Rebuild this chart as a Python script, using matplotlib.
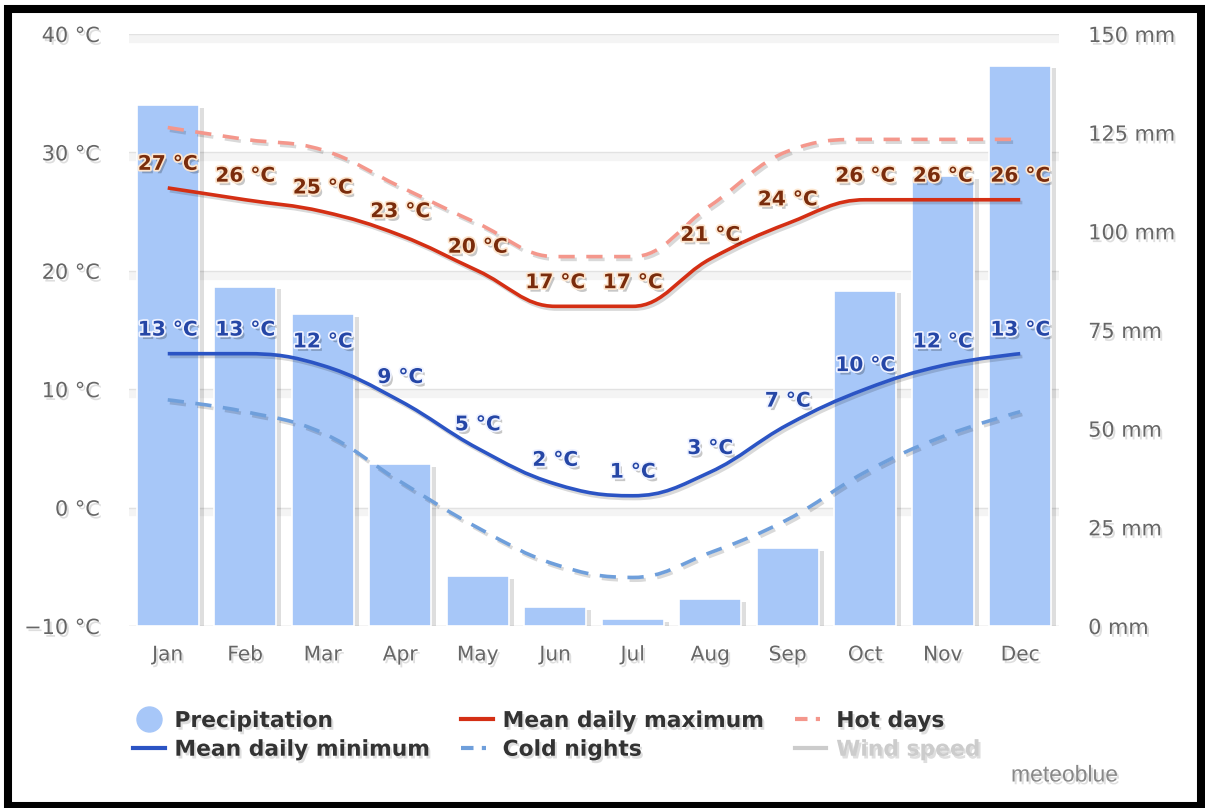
import numpy as np
import matplotlib
matplotlib.use('Agg')
import matplotlib.pyplot as plt
import matplotlib.patheffects as pe
from matplotlib.path import Path
from matplotlib.patches import PathPatch, Rectangle
from matplotlib.lines import Line2D

# climate data
months = ['Jan', 'Feb', 'Mar', 'Apr', 'May', 'Jun',
          'Jul', 'Aug', 'Sep', 'Oct', 'Nov', 'Dec']
precip = [132, 86, 79, 41, 12.7, 4.8, 1.8, 6.8, 19.8, 85, 114, 142]
t_max = [27, 26, 25, 23, 20, 17, 17, 21, 24, 26, 26, 26]
t_min = [13, 13, 12, 9, 5, 2, 1, 3, 7, 10, 12, 13]
hot_days = [32.1, 31.1, 30.2, 27.1, 24.0, 21.2, 21.2, 25.5, 30.1, 31.1, 31.1, 31.1]
cold_nights = [9.1, 8.1, 6.3, 2.2, -1.7, -4.8, -5.9, -3.8, -1.0, 3.0, 6.0, 8.1]

temp_ticks = [-10, 0, 10, 20, 30, 40]
temp_labels = ['\u221210 °C', '0 °C', '10 °C', '20 °C', '30 °C', '40 °C']
rain_ticks = [0, 25, 50, 75, 100, 125, 150]
rain_labels = ['0 mm', '25 mm', '50 mm', '75 mm', '100 mm', '125 mm', '150 mm']

c_bar = '#a7c7f8'
c_max = '#d42f14'
c_min = '#2b54c4'
c_hot = '#f4978c'
c_cold = '#6f9fdb'
c_tick = '#666666'


def spline_path(xs, ys, sm=1.5):
    # highcharts style spline through the points
    n = len(xs)
    den = sm + 1
    left = [None] * n
    right = [None] * n
    for i in range(1, n - 1):
        px, py = xs[i], ys[i]
        lx, ly = xs[i - 1], ys[i - 1]
        nx, ny = xs[i + 1], ys[i + 1]
        lcx = (sm * px + lx) / den
        lcy = (sm * py + ly) / den
        rcx = (sm * px + nx) / den
        rcy = (sm * py + ny) / den
        corr = (rcy - lcy) * (rcx - px) / (rcx - lcx) + py - rcy
        lcy += corr
        rcy += corr
        if lcy > ly and lcy > py:
            lcy = max(ly, py); rcy = 2 * py - lcy
        elif lcy < ly and lcy < py:
            lcy = min(ly, py); rcy = 2 * py - lcy
        if rcy > ny and rcy > py:
            rcy = max(ny, py); lcy = 2 * py - rcy
        elif rcy < ny and rcy < py:
            rcy = min(ny, py); lcy = 2 * py - rcy
        left[i] = (lcx, lcy)
        right[i] = (rcx, rcy)
    verts = [(xs[0], ys[0])]
    codes = [Path.MOVETO]
    for i in range(1, n):
        c1 = right[i - 1] or (xs[i - 1], ys[i - 1])
        c2 = left[i] or (xs[i], ys[i])
        verts += [c1, c2, (xs[i], ys[i])]
        codes += [Path.CURVE4] * 3
    return Path(verts, codes)


fig = plt.figure(figsize=(12.05, 8.08), dpi=100)
pos = [129 / 1205, 1 - 626 / 808, (1059 - 129) / 1205, (626 - 34) / 808]
x = np.arange(len(months))

# temperature axis: grid + left labels
ax_t = fig.add_axes(pos)
ax_t.set_xlim(-0.5, 11.5)
ax_t.set_ylim(temp_ticks[0], temp_ticks[-1])
for s in ax_t.spines.values():
    s.set_visible(False)
grid_fx = [pe.SimpleLineShadow(offset=(3, -3.5), shadow_color='#000000', alpha=0.045, linewidth=6), pe.Normal()]
for t in temp_ticks:
    col = '#c8c8c8' if t == temp_ticks[0] else '#e2e2e2'
    ax_t.axhline(t, color=col, lw=1.0, zorder=0, path_effects=grid_fx)
ax_t.set_yticks(temp_ticks)
ax_t.set_yticklabels(temp_labels)
ax_t.set_xticks(x)
ax_t.set_xticklabels(months)
ax_t.tick_params(axis='y', length=0, pad=21, labelsize=15, labelcolor=c_tick)
ax_t.tick_params(axis='x', length=0, pad=14, labelsize=14.5, labelcolor=c_tick)

# precipitation axis: bars + right labels
ax_p = ax_t.twinx()
ax_p.set_ylim(rain_ticks[0], rain_ticks[-1])
for s in ax_p.spines.values():
    s.set_visible(False)
ax_p.patch.set_visible(False)
ax_p.bar(x, precip, width=0.8, color=c_bar, edgecolor='white', linewidth=1.2,
         path_effects=[pe.SimplePatchShadow(offset=(3.5, -2), shadow_rgbFace='#000000', alpha=0.13), pe.Normal()])
ax_p.set_yticks(rain_ticks)
ax_p.set_yticklabels(rain_labels)
ax_p.tick_params(axis='y', length=0, pad=21, labelsize=15, labelcolor=c_tick)

txt_shadow = [pe.withSimplePatchShadow(offset=(1.5, -2), shadow_rgbFace='#000000', alpha=0.13)]
for lab in ax_t.get_xticklabels() + ax_t.get_yticklabels() + ax_p.get_yticklabels():
    lab.set_path_effects(txt_shadow)

# temperature lines on top
ax_l = fig.add_axes(pos)
ax_l.set_xlim(-0.5, 11.5)
ax_l.set_ylim(temp_ticks[0], temp_ticks[-1])
ax_l.axis('off')

line_fx = [pe.SimpleLineShadow(offset=(1.5, -2), shadow_color='#000000', alpha=0.15), pe.Normal()]
series = [
    (hot_days, c_hot, (0, (4.5, 3.2))),
    (cold_nights, c_cold, (0, (4.5, 3.2))),
    (t_max, c_max, '-'),
    (t_min, c_min, '-'),
]
for vals, col, ls in series:
    patch = PathPatch(spline_path(list(x), vals), fill=False, edgecolor=col, lw=2.6,
                      linestyle=ls, capstyle='butt', path_effects=line_fx)
    ax_l.add_patch(patch)

for vals, col, halo in [(t_max, '#7a2c0c', '#fde6cf'), (t_min, '#2546a6', '#eef2ff')]:
    for i, v in enumerate(vals):
        ax_l.annotate('%d °C' % v, (x[i], v), xytext=(0, 17), textcoords='offset points',
                      ha='center', va='center', fontsize=14.5, fontweight='bold', color=col,
                      path_effects=[pe.SimplePatchShadow(offset=(2, -2.5), shadow_rgbFace='#000000', alpha=0.22),
                                    pe.Stroke(linewidth=2.5, foreground=halo), pe.Normal()])

# legend
handles = [
    Line2D([], [], marker='o', ms=18, color=c_bar, ls='none'),
    Line2D([], [], color=c_min, lw=3),
    Line2D([], [], color=c_max, lw=3),
    Line2D([], [], color=c_cold, lw=3, ls=(0, (3, 2, 1, 2))),
    Line2D([], [], color=c_hot, lw=3, ls=(0, (3, 2, 1, 2))),
    Line2D([], [], color='#cccccc', lw=3),
]
names = ['Precipitation', 'Mean daily minimum', 'Mean daily maximum',
         'Cold nights', 'Hot days', 'Wind speed']
leg = fig.legend(handles, names, ncol=3, loc='upper left', bbox_to_anchor=(133 / 1205, 1 - 711 / 808),
                 frameon=False, prop={'weight': 'bold', 'size': 15.7}, handlelength=1.45,
                 handletextpad=0.45, columnspacing=1.45, labelspacing=0.4, borderpad=0, borderaxespad=0)
for t in leg.get_texts():
    t.set_color('#333333')
    t.set_path_effects(txt_shadow)
leg.get_texts()[-1].set_color('#cccccc')

fig.text(1118 / 1205, 1 - 775 / 808, 'meteoblue', ha='right', va='center', fontsize=16.5,
         color='#888888', family='Liberation Sans', path_effects=txt_shadow)

# black frame around the picture
fig.patches.append(Rectangle((8 / 1205, 2 / 808), 1193 / 1205, 797 / 808, transform=fig.transFigure,
                             fill=False, edgecolor='black', lw=5.8))

fig.savefig('out.png', dpi=100, facecolor='white')
